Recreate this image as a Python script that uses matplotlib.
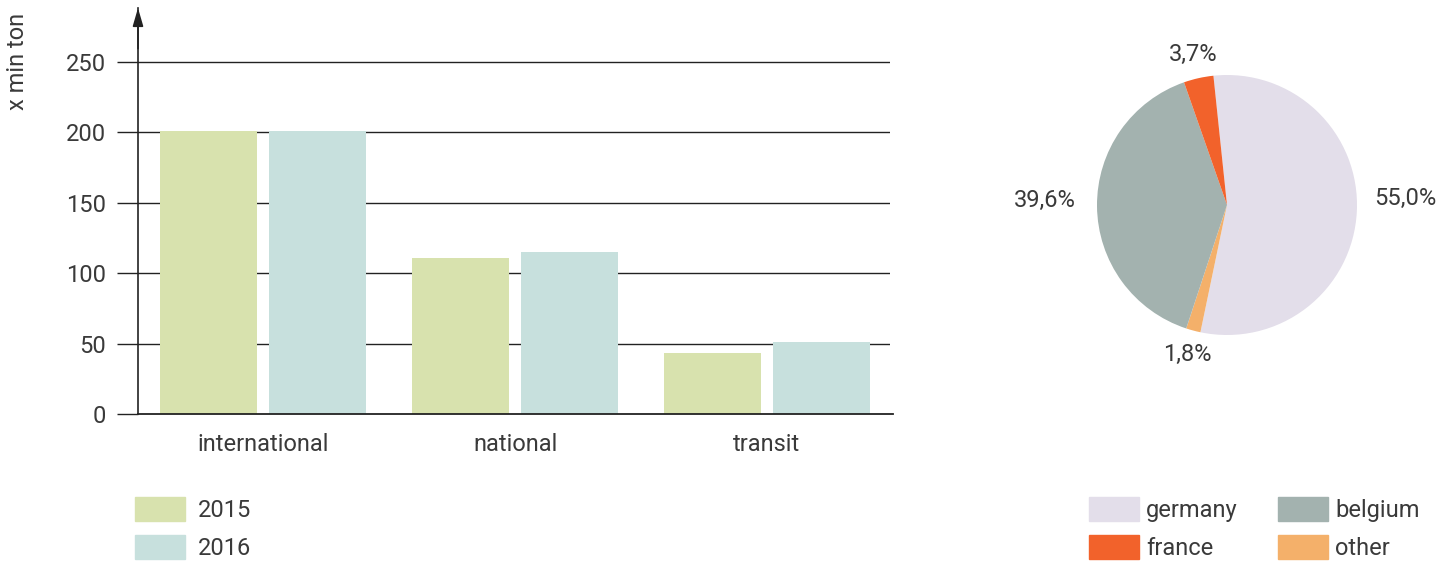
import matplotlib
matplotlib.use("Agg")
import matplotlib.pyplot as plt
import numpy as np
from matplotlib.patches import Patch

# bar chart data (x min ton)
categories = ["international", "national", "transit"]
years = ["2015", "2016"]
values_2015 = [201, 111, 43]
values_2016 = [201, 115, 51]
y_ticks = [0, 50, 100, 150, 200, 250]

# pie chart data (share, %)
countries = ["germany", "other", "belgium", "france"]
shares = [55.0, 1.8, 39.6, 3.7]
share_labels = ["55,0%", "1,8%", "39,6%", "3,7%"]
# column-wise fill -> rows: germany/belgium, france/other
legend_order = ["germany", "france", "belgium", "other"]

BAR_COLORS = {"2015": "#D8E2AE", "2016": "#C7E0DD"}
PIE_COLORS = {"germany": "#E3DEEA", "belgium": "#A3B2AF",
              "france": "#F2622B", "other": "#F4B06A"}
TXT = "#3a3a3a"
LINE = "#222222"
FS = 17

plt.rcParams["font.family"] = ["Roboto", "DejaVu Sans"]
plt.rcParams["font.weight"] = "normal"

W, H = 1456, 564
fig = plt.figure(figsize=(W / 100, H / 100), dpi=100)

# ---- bar chart
ax = fig.add_axes([138 / W, (H - 414) / H, (890 - 138) / W, (414 - 8) / H])
x = np.arange(len(categories))
bw = 0.385
ax.bar(x - 0.215, values_2015, bw, color=BAR_COLORS["2015"], zorder=1)
ax.bar(x + 0.215, values_2016, bw, color=BAR_COLORS["2016"], zorder=1)
ax.set_xlim(-0.496, 2.488)
ax.set_ylim(0, 288)
for t in y_ticks[1:]:
    ax.axhline(t, color=LINE, lw=1, zorder=0)
ax.axhline(0, color=LINE, lw=1.3, zorder=3, xmax=1.004, clip_on=False)
ax.set_yticks(y_ticks)
ax.set_yticklabels([str(t) for t in y_ticks], fontsize=FS, color=TXT)
ax.tick_params(axis="y", length=15, width=1, color=LINE, pad=8)
ax.set_xticks(x)
ax.set_xticklabels(categories, fontsize=FS, color=TXT)
ax.tick_params(axis="x", length=0, pad=14)
for s in ["top", "right", "bottom"]:
    ax.spines[s].set_visible(False)
ax.spines["left"].set_color(LINE)
ax.spines["left"].set_linewidth(1.2)
# arrow head on the y axis
ax.annotate("", xy=(0, 1), xytext=(0, 0.9), xycoords=ax.transAxes,
            arrowprops=dict(arrowstyle="-|>,head_length=1.1,head_width=0.32",
                            color=LINE, lw=1.2, shrinkA=0, shrinkB=0,
                            mutation_scale=10),
            annotation_clip=False)
fig.text(18 / W, (H - 61) / H, "x min ton", rotation=90, ha="center",
         va="center", fontsize=FS, color=TXT)

fig.legend(handles=[Patch(color=BAR_COLORS[y]) for y in years], labels=years,
           loc="upper left", bbox_to_anchor=(135 / W, (H - 497) / H),
           frameon=False, fontsize=FS, labelcolor=TXT, handlelength=2.12,
           handleheight=1.2, handletextpad=0.55, labelspacing=0.55,
           borderpad=0, borderaxespad=0)

# ---- pie chart
pax = fig.add_axes([1097 / W, (H - 335) / H, 260 / W, 260 / H])
wedges, _ = pax.pie(shares, colors=[PIE_COLORS[c] for c in countries],
                    startangle=96, counterclock=False, radius=1,
                    wedgeprops=dict(linewidth=0))
pax.set_xlim(-1, 1)
pax.set_ylim(-1, 1)
label_dist = [1.37, 1.19, 1.4, 1.19]
label_dy = [0.12, 0, 0.05, 0]
for w, lab, d, dy in zip(wedges, share_labels, label_dist, label_dy):
    ang = np.deg2rad((w.theta1 + w.theta2) / 2)
    pax.text(d * np.cos(ang), d * np.sin(ang) + dy, lab, ha="center",
             va="center", fontsize=FS, color=TXT)

fig.legend(handles=[Patch(color=PIE_COLORS[c]) for c in legend_order],
           labels=legend_order, ncol=2, loc="upper left",
           bbox_to_anchor=(1089 / W, (H - 497) / H), frameon=False,
           fontsize=FS, labelcolor=TXT, handlelength=2.12, handleheight=1.2,
           handletextpad=0.3, labelspacing=0.55, columnspacing=1.7,
           borderpad=0, borderaxespad=0)

fig.savefig("out.png", dpi=100)
